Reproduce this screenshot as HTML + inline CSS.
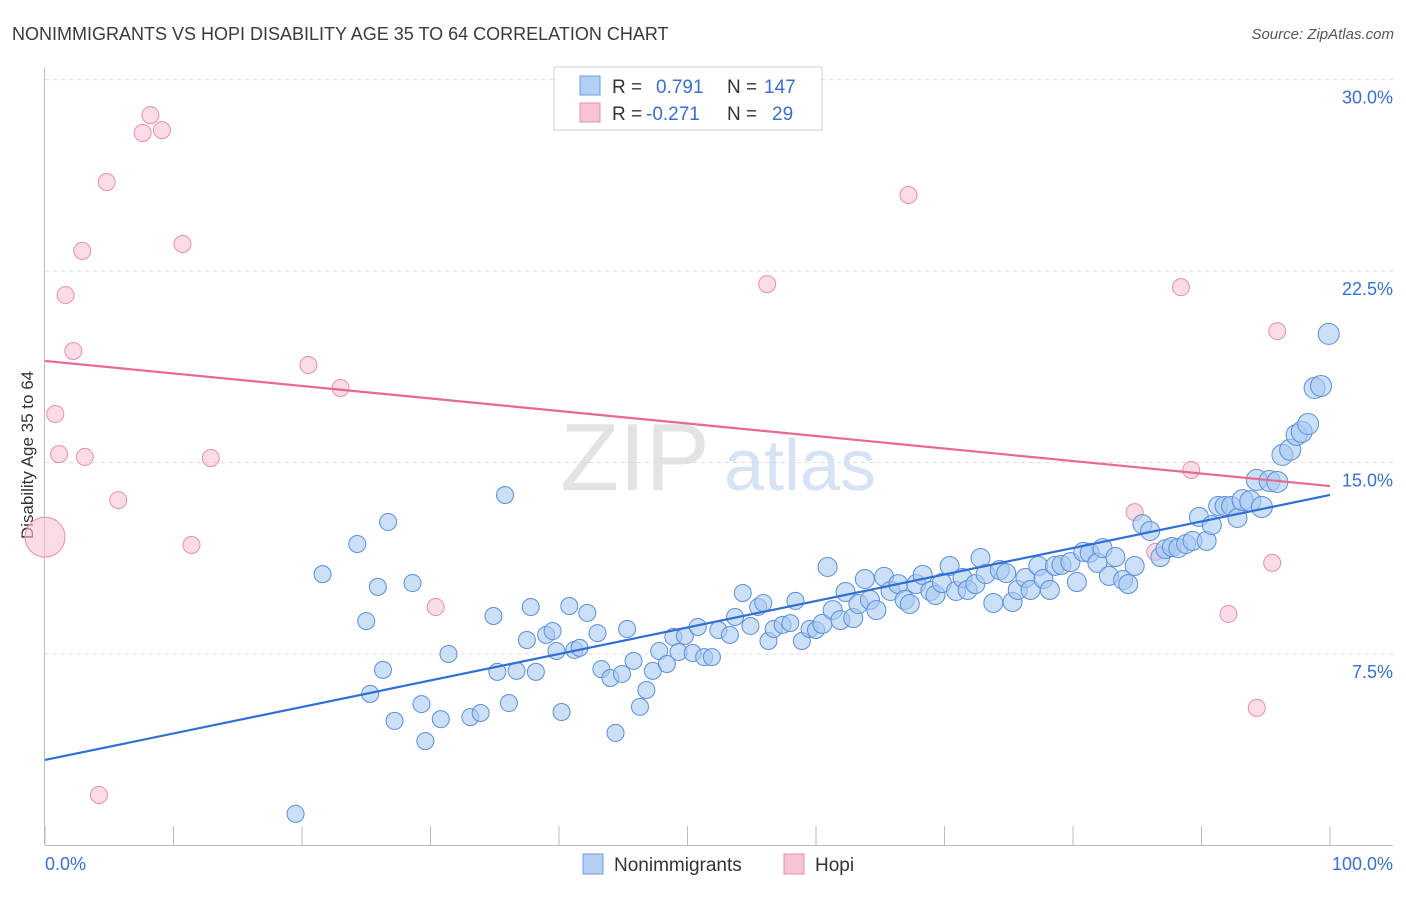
<!DOCTYPE html>
<html><head><meta charset="utf-8"><style>
body{margin:0;background:#fff;font-family:"Liberation Sans",sans-serif;}
svg text{font-family:"Liberation Sans",sans-serif;}
</style></head><body>
<svg id="chart" width="1406" height="892" xmlns="http://www.w3.org/2000/svg">
<text x="12" y="40" font-size="18" fill="#3a3a3a">NONIMMIGRANTS VS HOPI DISABILITY AGE 35 TO 64 CORRELATION CHART</text>
<text x="1394" y="39" font-size="15" fill="#555" text-anchor="end" font-style="italic">Source: ZipAtlas.com</text>
<text transform="translate(33,455) rotate(-90)" font-size="17" fill="#333" text-anchor="middle">Disability Age 35 to 64</text>
<g>
<text x="635" y="490" font-size="96" fill="#d8d8d8" text-anchor="middle" font-family="Liberation Serif" opacity="0.7">ZIP</text>
<text x="800" y="490" font-size="72" fill="#c6d8f0" text-anchor="middle" opacity="0.7">atlas</text>
</g>
<g id="grid"></g><g id="axes"></g><g id="pinkpts"></g><g id="bluepts"></g><g id="trends"></g>
<g>
<rect x="554" y="67" width="268" height="63" fill="#fff" stroke="#d0d0d0"/>
<rect x="580" y="76" width="20" height="19" fill="#b3d0f4" stroke="#6a9ee0"/>
<text x="612" y="93" font-size="19" fill="#333">R = </text><text x="656" y="93" font-size="19" fill="#3a6fd0">0.791</text>
<text x="727" y="93" font-size="19" fill="#333">N = </text><text x="764" y="93" font-size="19" fill="#3a6fd0">147</text>
<rect x="580" y="103" width="20" height="19" fill="#f8c3d3" stroke="#e890ab"/>
<text x="612" y="120" font-size="19" fill="#333">R = </text><text x="646" y="120" font-size="19" fill="#3a6fd0">-0.271</text>
<text x="727" y="120" font-size="19" fill="#333">N = </text><text x="772" y="120" font-size="19" fill="#3a6fd0">29</text>
</g>
<g>
<rect x="583" y="854" width="20" height="20" fill="#b3d0f4" stroke="#6a9ee0"/>
<text x="614" y="871" font-size="19" fill="#333">Nonimmigrants</text>
<rect x="784" y="854" width="20" height="20" fill="#f8c3d3" stroke="#e890ab"/>
<text x="815" y="871" font-size="19" fill="#333">Hopi</text>
</g>
</svg>
<script>
const blueX=[19.5,21.6,24.3,25.0,25.9,26.7,26.3,25.3,27.2,28.6,29.3,29.6,30.8,31.4,33.1,33.9,34.9,35.2,35.8,36.1,36.7,37.5,37.8,38.2,39.0,39.5,39.8,40.2,40.8,41.2,41.6,42.2,43.0,43.3,44.0,44.4,44.9,45.3,45.8,46.3,46.8,47.3,47.8,48.4,48.9,49.3,49.8,50.4,50.8,51.3,51.9,52.4,53.3,53.7,54.3,54.9,55.5,55.9,56.3,56.7,57.4,58.0,58.4,58.9,59.5,60.0,60.5,60.9,61.3,61.9,62.3,62.9,63.3,63.8,64.2,64.7,65.3,65.8,66.4,66.9,67.3,67.8,68.3,68.9,69.3,69.8,70.4,70.9,71.4,71.8,72.4,72.8,73.2,73.8,74.3,74.8,75.3,75.7,76.3,76.7,77.3,77.7,78.2,78.6,79.1,79.8,80.3,80.8,81.3,81.9,82.3,82.8,83.3,83.9,84.3,84.8,85.4,86.0,86.8,87.2,87.7,88.2,88.8,89.3,89.8,90.4,90.8,91.3,91.8,92.3,92.8,93.2,93.8,94.3,94.7,95.3,95.9,96.3,96.9,97.4,97.8,98.3,98.8,99.3,99.9];
const blueY=[1.24,10.63,11.81,8.79,10.13,12.67,6.88,5.94,4.88,10.28,5.54,4.09,4.95,7.50,5.03,5.19,8.99,6.80,13.73,5.58,6.84,8.05,9.34,6.80,8.25,8.40,7.62,5.23,9.38,7.66,7.74,9.11,8.32,6.91,6.56,4.41,6.72,8.48,7.23,5.43,6.09,6.84,7.62,7.11,8.17,7.58,8.21,7.54,8.56,7.38,7.38,8.44,8.25,8.95,9.89,8.60,9.34,9.50,8.01,8.48,8.64,8.71,9.58,8.01,8.48,8.44,8.68,10.91,9.22,8.83,9.93,8.91,9.46,10.44,9.62,9.22,10.52,9.97,10.24,9.62,9.46,10.24,10.60,9.97,9.81,10.28,10.95,9.97,10.48,10.01,10.24,11.26,10.63,9.50,10.79,10.67,9.54,10.01,10.48,10.01,10.95,10.44,10.01,10.95,10.99,11.10,10.32,11.50,11.46,11.07,11.65,10.56,11.30,10.40,10.24,10.95,12.59,12.32,11.30,11.61,11.69,11.65,11.81,11.93,12.87,11.93,12.55,13.30,13.30,13.30,12.83,13.53,13.49,14.32,13.26,14.28,14.24,15.30,15.50,16.08,16.20,16.51,17.92,18.00,20.04];
const pinkX=[0,0.8,1.1,1.6,2.2,2.9,3.1,4.2,4.8,5.7,7.6,8.2,9.1,10.7,11.4,12.9,20.5,23.0,30.4,56.2,67.2,84.8,86.4,88.4,89.2,92.1,94.3,95.5,95.9];
const pinkY=[12.08,16.90,15.33,21.56,19.37,23.29,15.22,1.98,25.99,13.53,27.91,28.61,28.02,23.56,11.77,15.18,18.82,17.92,9.34,21.99,25.48,13.06,11.50,21.87,14.71,9.07,5.39,11.07,20.15];
const blueTrend=[3.35,13.73];
const pinkTrend=[18.98,14.08];
const yTicks=[7.5,15,22.5,30];
const yTickLabels=["7.5%","15.0%","22.5%","30.0%"];
const xTicks=[0,10,20,30,40,50,60,70,80,90,100];

const NS="http://www.w3.org/2000/svg";
const X0=45,X1=1330,Y0=845.5,YPER=25.53;
function sx(v){return X0+(X1-X0)*v/100;}
function sy(v){return Y0-v*YPER;}
function mk(tag,attrs,parent){const e=document.createElementNS(NS,tag);for(const k in attrs)e.setAttribute(k,attrs[k]);parent.appendChild(e);return e;}
const grid=document.getElementById('grid'),axes=document.getElementById('axes');
yTicks.forEach((t,i)=>{
  const l=mk('line',{x1:45,x2:1393,y1:sy(t),y2:sy(t),stroke:'#dcdcdc','stroke-dasharray':'4,4'},grid);
  
  
  const tx=mk('text',{x:1393,y:sy(t)+24,'font-size':18,fill:'#3a6fd0','text-anchor':'end'},grid);
  tx.textContent=yTickLabels[i];
  
  
});
const ya=mk('line',{x1:44.5,x2:44.5,y1:68,y2:845,stroke:'#bbb'},axes);


const xa=mk('line',{x1:45,x2:1393,y1:845.5,y2:845.5,stroke:'#bbb'},axes);


xTicks.forEach(t=>{
  const l=mk('line',{x1:sx(t),x2:sx(t),y1:826,y2:845,stroke:'#bbb'},axes);
  
  
});
const xl0=mk('text',{x:45,y:870,'font-size':18,fill:'#3a6fd0'},axes);xl0.textContent='0.0%';


const xl1=mk('text',{x:1393,y:870,'font-size':18,fill:'#3a6fd0','text-anchor':'end'},axes);xl1.textContent='100.0%';



const pg=document.getElementById('pinkpts');
pinkX.forEach((x,i)=>{
  const c=mk('circle',{cx:sx(x),cy:sy(pinkY[i]),r:i===0?20:8.5,fill:'#f8c3d3','fill-opacity':0.6,stroke:'#e890ab','stroke-width':1},pg);
  
  
});
const bg=document.getElementById('bluepts');
blueX.forEach((x,i)=>{
  const c=mk('circle',{cx:sx(x),cy:sy(blueY[i]),r:x>93?10.5:(x>60?9.5:8.5),fill:'#a9c9f2','fill-opacity':0.6,stroke:'#5a8fdc','stroke-width':1},bg);
  
  
});
const tg=document.getElementById('trends');
const bl=mk('line',{x1:sx(0),y1:sy(blueTrend[0]),x2:sx(100),y2:sy(blueTrend[1]),stroke:'#2f6fd6','stroke-width':2.2},tg);


const pl=mk('line',{x1:sx(0),y1:sy(pinkTrend[0]),x2:sx(100),y2:sy(pinkTrend[1]),stroke:'#e8688f','stroke-width':2.2},tg);


</script>
</body></html>
